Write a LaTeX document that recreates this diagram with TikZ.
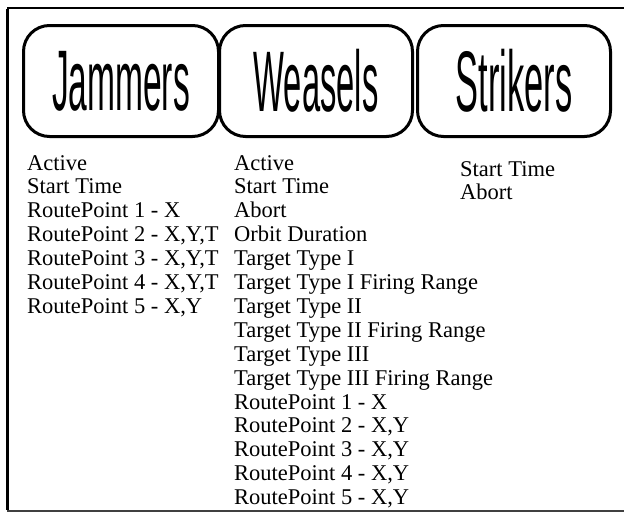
\documentclass[tikz,border=0pt]{standalone}
\usepackage{fontspec}
\setmainfont{Liberation Serif}
\newfontfamily\boxfont{Liberation Sans}
\begin{document}
\begin{tikzpicture}[x=1pt,y=-1pt,
  grp/.style={draw=black, line width=3pt, rounded corners=26pt, inner sep=0pt,
    minimum height=111pt},
  item/.style={anchor=base west, inner sep=0pt, font=\fontsize{22.5}{23.86}\selectfont}]
\useasboundingbox (0,0) rectangle (624,512);
\fill[white] (0,0) rectangle (624,512);
% frame
\coordinate (ftl) at (7,8);
\coordinate (ftr) at (624,8);
\coordinate (fbl) at (7,511);
\coordinate (fbr) at (624,511);
\draw[line width=2pt] (ftl) -- (ftr);
\draw[line width=2pt, draw=black!75] (fbl) -- (fbr);
\draw[line width=3pt] ([yshift=-1pt]ftl) -- ([yshift=1pt]fbl);
% group boxes
\newcommand{\grplabel}[2]{\scalebox{#1}[1]{\boxfont\fontsize{86}{86}\selectfont #2}}
\node[grp, minimum width=195pt] (jam) at (121,81) {\grplabel{0.39}{Jammers}};
\node[grp, minimum width=193pt] (wea) at (316,81) {\grplabel{0.38}{Weasels}};
\node[grp, minimum width=193pt] (str) at (514,81) {\grplabel{0.40}{Strikers}};
% Jammers list
\foreach \t [count=\i] in {Active, Start Time, RoutePoint 1 - X,
  {RoutePoint 2 - X,Y,T}, {RoutePoint 3 - X,Y,T}, {RoutePoint 4 - X,Y,T},
  {RoutePoint 5 - X,Y}}
  \node[item] (j\i) at (27,{170+23.9*(\i-1)}) {\t};
% Weasels list
\foreach \t [count=\i] in {Active, Start Time, Abort, Orbit Duration,
  Target Type I, Target Type I Firing Range, Target Type II,
  Target Type II Firing Range, Target Type III, Target Type III Firing Range,
  RoutePoint 1 - X, {RoutePoint 2 - X,Y}, {RoutePoint 3 - X,Y},
  {RoutePoint 4 - X,Y}, {RoutePoint 5 - X,Y}}
  \node[item] (w\i) at (234,{170+23.9*(\i-1)}) {\t};
% Strikers list
\node[item] (s1) at (460,176) {Start Time};
\node[item] (s2) at (460,199) {Abort};
\end{tikzpicture}
\end{document}
